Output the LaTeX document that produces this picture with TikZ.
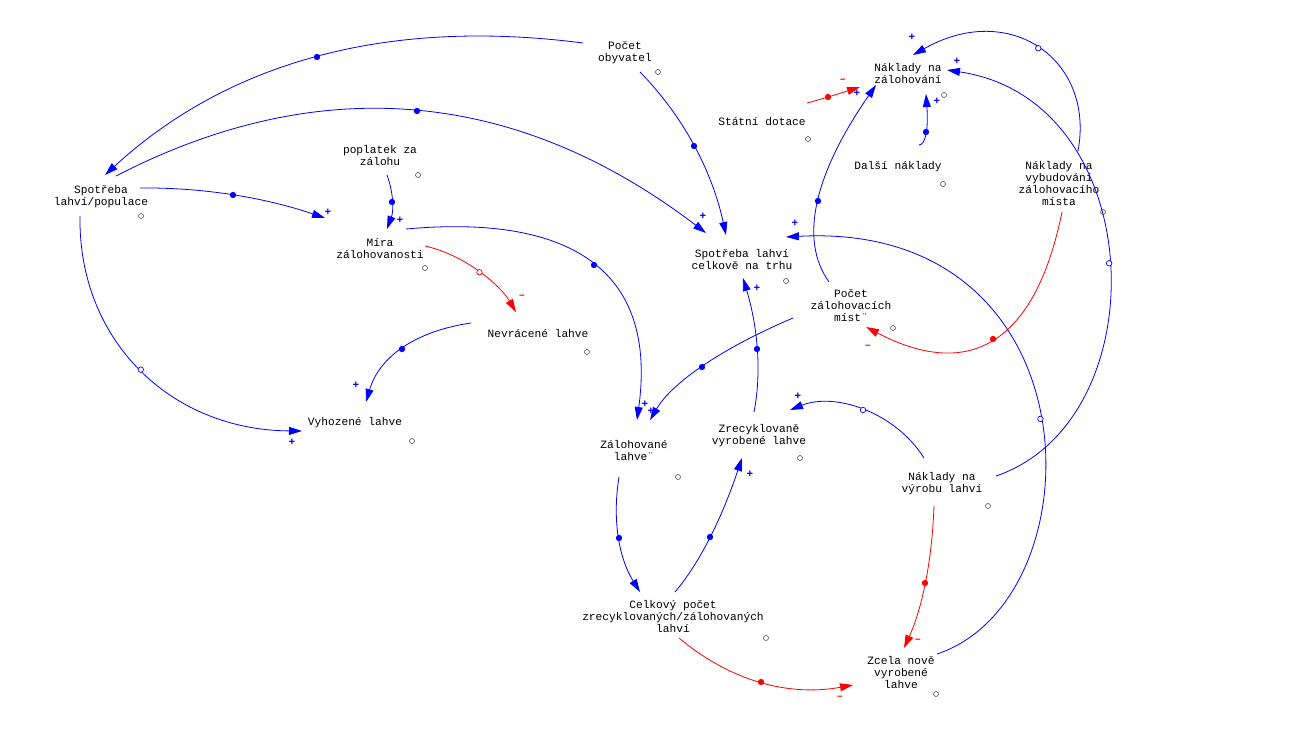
\documentclass[tikz,border=0pt]{standalone}
\usepackage{fontspec}
\setmainfont{Liberation Mono}
\usetikzlibrary{arrows.meta,calc}
\definecolor{lblue}{RGB}{0,0,255}
\definecolor{lred}{RGB}{255,0,0}
\tikzset{
  var/.style={align=center,font=\fontsize{11.2}{12}\selectfont,inner sep=0pt},
  dot/.style={circle,draw=black!70,line width=0.6pt,minimum size=5pt,inner sep=0pt},
  lpos/.style={lblue},lneg/.style={lred},
  lk/.style={line width=0.8pt,-{Triangle[length=13pt,width=8pt]}},
  mk/.style={circle,draw,fill=white,line width=0.7pt,minimum size=5.5pt,inner sep=0pt},
  sg/.style={font=\bfseries\fontsize{11}{11}\selectfont,inner sep=0pt}
}
\newcommand{\lnk}[6]{%
  \draw[lk,#4] (#1) .. controls ($1.3333*(#2)-0.3333*(#3)$) and ($1.3333*(#2)-0.3333*(#1)$) .. (#3);
  \node[mk,#4] at (#2) {};
  \node[sg,#4] at (#6) {#5};}
\newcommand{\clnk}[7]{%
  \draw[lk,#5] (#1) .. controls (#2) and (#3) .. node[mk,pos=0.5]{} (#4);
  \node[sg,#5] at (#7) {#6};}
\begin{document}
\begin{tikzpicture}[x=1pt,y=-1pt]
\useasboundingbox (0,0) rectangle (1316,744);
\node[var] (po) at (625,53) {Počet\\obyvatel};
\node[var] (sp) at (101,197) {Spotřeba\\lahví/populace};
\node[var] (pz) at (380,155) {poplatek za\\zálohu};
\node[var] (mz) at (380,249) {Míra\\zálohovanosti};
\node[var] (nl) at (538,333) {Nevrácené lahve};
\node[var] (vl) at (355,423) {Vyhozené lahve};
\node[var] (sc) at (742,259) {Spotřeba lahví\\celkově na trhu};
\node[var] (sd) at (762,122) {Státní dotace};
\node[var] (nz) at (908,73) {Náklady na\\zálohování};
\node[var] (dn) at (898,167) {Další náklady};
\node[var] (nv) at (1059,183) {Náklady na\\vybudování\\zálohovacího\\místa};
\node[var] (pm) at (851,306) {Počet\\zálohovacích\\míst¨};
\node[var] (zl) at (634,450) {Zálohované\\lahve¨};
\node[var] (zr) at (759,436) {Zrecyklovaně\\vyrobené lahve};
\node[var] (nr) at (942,484) {Náklady na\\výrobu lahví};
\node[var] (cp) at (673,616) {Celkový počet\\zrecyklovaných/zálohovaných\\lahví};
\node[var] (zn) at (901,672) {Zcela nově\\vyrobené\\lahve};
\foreach \n/\x/\y in {d1/658/72,d2/141/216,d3/418/175,d4/425/268,d5/587/352,d6/412/441,d7/786/281,d8/808/139,d9/944/95,d10/943/184,d11/1103/212,d12/893/328,d13/678/477,d14/800/458,d15/988/506,d16/766/638,d17/936/694}
  \node[dot] (\n) at (\x,\y) {};
\lnk{583,43}{317,57}{105,175}{lpos}{}{0,0}
\lnk{116,176}{417,111}{706,233}{lpos}{+}{703,216}
\lnk{640,72}{694,146}{726,235}{lpos}{}{0,0}
\lnk{140,188}{233,195}{325,218}{lpos}{+}{328,212}
\lnk{387,175}{392,202}{387,229}{lpos}{+}{400,220}
\clnk{80,216}{78,340}{170,430}{302,431}{lpos}{+}{292,442}
\clnk{425,246}{465,255}{500,285}{516,312}{lneg}{--}{522,297}
\lnk{471,323}{402,349}{366,402}{lpos}{+}{356,385}
\lnk{406,229}{594,265}{637,420}{lpos}{+}{645,404}
\lnk{793,318}{702,367}{650,420}{lpos}{+}{651,411}
\lnk{754,412}{757,349}{743,278}{lpos}{+}{757,288}
\lnk{829,282}{818,201}{876,85}{lpos}{+}{857,93}
\lnk{807,103}{828,97}{860,87}{lneg}{--}{843,81}
\lnk{919,145}{926,132}{926,94}{lpos}{+}{937,101}
\clnk{1078,151}{1095,60}{1010,0}{913,55}{lpos}{+}{912,37}
\clnk{996,476}{1160,420}{1150,100}{947,70}{lpos}{+}{957,61}
\lnk{1062,212}{993,339}{866,327}{lneg}{--}{868,347}
\clnk{937,654}{1100,600}{1100,220}{786,237}{lpos}{+}{795,223}
\clnk{924,458}{895,412}{835,392}{790,410}{lpos}{+}{798,396}
\lnk{619,477}{619,538}{640,592}{lpos}{}{0,0}
\lnk{675,592}{710,537}{742,458}{lpos}{+}{750,474}
\lnk{934,506}{925,583}{904,648}{lneg}{--}{918,641}
\lnk{679,638}{761,682}{853,685}{lneg}{--}{840,698}
\end{tikzpicture}
\end{document}
